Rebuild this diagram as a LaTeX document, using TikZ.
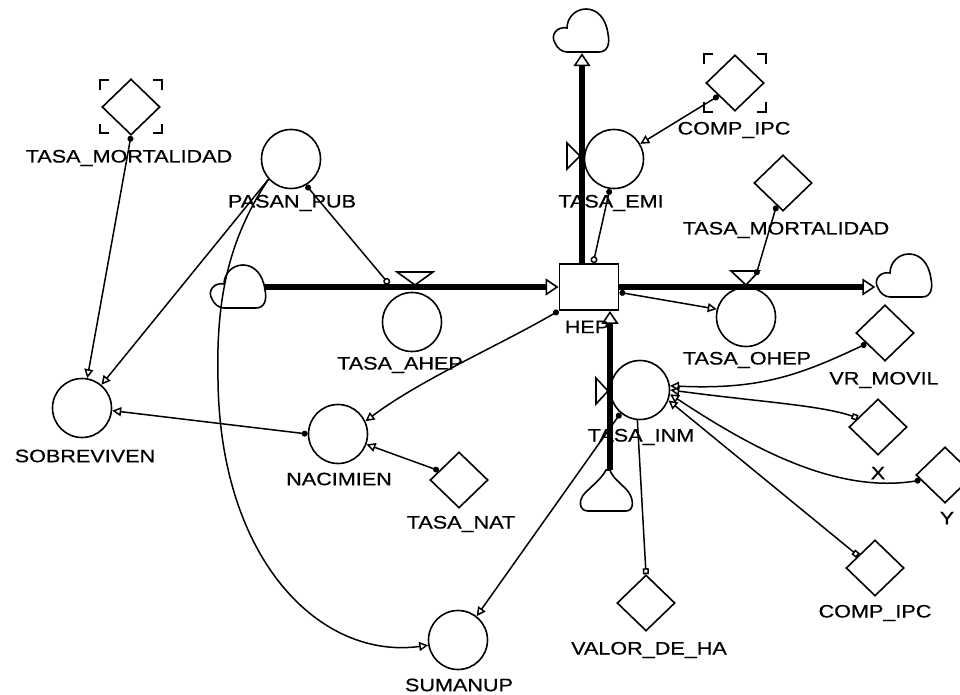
\documentclass[tikz,border=0pt]{standalone}
\usepackage{fontspec}
\setmainfont{Liberation Sans}[FakeStretch=1.2,FakeBold=0.6]
\usetikzlibrary{arrows.meta,shapes.geometric}
\tikzset{
 cloudA/.pic={
   \draw[line width=1.6pt,fill=white] (-13,21) -- (19,21) .. controls (28,21) and (30,12) .. (28,3) .. controls (26,-13) and (17,-22) .. (6,-22) .. controls (-5,-22) and (-13,-13) .. (-13,-3) .. controls (-23,-5) and (-30,4) .. (-25,12) .. controls (-23,17) and (-18,21) .. (-13,21) -- cycle;
   \node[minimum width=55pt,minimum height=44pt] (-n) {};
 },
 cloudB/.pic={
   \draw[line width=1.6pt,fill=white] (-19,20) -- (19,20) .. controls (28,20) and (27,6) .. (19,-2) .. controls (13,-8) and (5,-14) .. (3,-21) -- (-1,-21) .. controls (-5,-13) and (-14,-6) .. (-22,2) .. controls (-29,9) and (-28,20) .. (-19,20) -- cycle;
   \node[minimum width=52pt,minimum height=42pt] (-n) {};
 },
}
\begin{document}
\begin{tikzpicture}[x=1pt,y=-1pt,
  every node/.style={inner sep=0pt},
  aux/.style={circle,draw,line width=1.6pt,minimum size=59pt,fill=white},
  conv/.style={diamond,draw,line width=1.6pt,minimum width=58pt,minimum height=56pt,fill=white},
  stockbox/.style={rectangle,draw,line width=1.8pt,minimum width=59pt,minimum height=46pt,fill=white},
  lbl/.style={font=\fontsize{18}{20}\selectfont},
  pipe/.style={line width=5.5pt,-{Triangle[open,line width=1.6pt,length=13pt,width=17pt]}},
  lk/.style={line width=1.5pt},
  dotopen/.style={lk,arrows={Circle[length=6pt]-Triangle[open,length=9pt,width=9pt]}},
  plainopen/.style={lk,arrows={-Triangle[open,length=9pt,width=9pt]}},
  dotocirc/.style={lk,arrows={Circle[length=6pt]-Circle[open,length=7pt]}},
  ocircdot/.style={lk,arrows={Circle[open,length=7pt]-Circle[length=6pt]}},
  dotdot/.style={lk,arrows={Circle[length=6pt]-Circle[length=6pt]}},
  sqopen/.style={lk,arrows={Square[open,length=6pt,width=6pt]-Triangle[open,length=9pt,width=9pt]}},
  plainsq/.style={lk,arrows={-Square[open,length=6pt,width=6pt]}},
  valve/.style={line width=1.6pt,fill=white},
  ghost/.style={line width=1.6pt},
]
\useasboundingbox (0,0) rectangle (960,695);
\fill[white] (0,0) rectangle (960,695);

% stock
\node[stockbox] (hep) at (589,287) {};

% auxiliaries / rates
\node[aux] (pasan) at (291,159) {};
\node[aux] (ahep) at (412,322) {};
\node[aux] (emi) at (614,159) {};
\node[aux] (ohep) at (746,317) {};
\node[aux] (inm) at (640,390) {};
\node[aux] (sobre) at (82,408) {};
\node[aux] (nac) at (338,434) {};
\node[aux] (suma) at (458,640) {};

% converters
\node[conv] (mortL) at (131,107) {};
\node[conv] (ipcT) at (735,83) {};
\node[conv] (mortR) at (783,183) {};
\node[conv] (vr) at (885,333) {};
\node[conv] (xd) at (878,427) {};
\node[conv] (yd) at (945,475) {};
\node[conv] (ipcB) at (875,568) {};
\node[conv] (valor) at (646,603) {};
\node[conv] (nat) at (459,480) {};

% ghost brackets
\begin{scope}[shift={(mortL.center)}]
 \draw[ghost] (-31,-17) -- (-31,-27) -- (-22,-27);
 \draw[ghost] (22,-27) -- (31,-27) -- (31,-17);
 \draw[ghost] (-31,17) -- (-31,26) -- (-22,26);
 \draw[ghost] (22,26) -- (31,26) -- (31,17);
\end{scope}
\begin{scope}[shift={(ipcT.center)}]
 \draw[ghost] (-31,-19) -- (-31,-29) -- (-22,-29);
 \draw[ghost] (22,-29) -- (31,-29) -- (31,-19);
 \draw[ghost] (-31,19) -- (-31,29) -- (-22,29);
 \draw[ghost] (22,29) -- (31,29) -- (31,19);
\end{scope}

% clouds
\pic (cL) at (237,287) {cloudA};
\pic (tc) at (580,31) {cloudA};
\pic (rc) at (903,276) {cloudA};
\pic (bc) at (607,491) {cloudB};

% valve coordinates
\coordinate (vA) at (415,287);
\coordinate (vAl) at (389,284);
\coordinate (vO) at (746,287);
\coordinate (vOr) at (756,275);
\coordinate (vE) at (582,156);
\coordinate (vI) at (610,391);

% pipes (flows)
\draw[pipe] (cL-n.east |- hep.west) -- (hep.west);
\draw[pipe] (hep.east) -- (hep.east -| rc-n.west);
\draw[pipe] (hep.north -| vE) -- (vE |- tc-n.south);
\draw[pipe] (vI |- bc-n.north) -- (hep.south -| vI);

% valves
\draw[valve] (vA) +(-18,-15) -- +(18,-15) -- +(0,-2) -- cycle;
\draw[valve] (vO) +(-15,-16) -- +(13,-16) -- +(0,-2) -- cycle;
\draw[valve] (vE) +(-15,-13) -- +(-15,13) -- +(-2,0) -- cycle;
\draw[valve] (vI) +(-14,-13) -- +(-14,13) -- +(-2,0) -- cycle;

% connectors
\draw[dotopen] (mortL.south) -- (sobre.80);
\draw[plainopen] (pasan.222) -- (sobre.50);
\draw[plainopen] (pasan.222) .. controls (228,240) and (216,300) .. (218,380) .. controls (220,560) and (320,660) .. (suma.190);
\draw[dotocirc] (pasan.300) -- (vAl);
\draw[dotopen] (hep.south west) .. controls (500,345) and (420,380) .. (nac.25);
\draw[dotopen] (nac.west) -- (sobre.-5);
\draw[dotopen] (nat.155) -- (nac.-20);
\draw[dotopen] (inm.230) -- (suma.52);
\draw[ocircdot] (hep.80) -- (emi.262);
\draw[dotopen] (ipcT.218) -- (emi.30);
\draw[dotdot] (mortR.254) -- (vOr);
\draw[dotopen] (hep.-10) -- (ohep.165);
\draw[dotopen] (vr.210) .. controls (800,375) and (760,390) .. (inm.8);
\draw[sqopen] (xd.156) .. controls (820,405) and (760,402) .. (inm.0);
\draw[dotopen] (yd.192) .. controls (830,495) and (740,440) .. (inm.-8);
\draw[sqopen] (ipcB.144) -- (inm.-20);
\draw[plainsq] (inm.-95) -- (valor.north);

% labels
\node[lbl] (lmortL) at (129,158) {TASA\_MORTALIDAD};
\node[lbl] (lpasan) at (292,203) {PASAN\_PUB};
\node[lbl] (lahep) at (400,365) {TASA\_AHEP};
\node[lbl] (lemi) at (611,203) {TASA\_EMI};
\node[lbl] (lipcT) at (734,130) {COMP\_IPC};
\node[lbl] (lmortR) at (786,230) {TASA\_MORTALIDAD};
\node[lbl] (lhep) at (587,327) {HEP};
\node[lbl] (lohep) at (747,360) {TASA\_OHEP};
\node[lbl] (lvr) at (884,380) {VR\_MOVIL};
\node[lbl] (linm) at (641,437) {TASA\_INM};
\node[lbl] (lx) at (878,473) {X};
\node[lbl] (ly) at (947,518) {Y};
\node[lbl] (lipcB) at (875,613) {COMP\_IPC};
\node[lbl] (lvalor) at (649,650) {VALOR\_DE\_HA};
\node[lbl] (lsuma) at (459,685) {SUMANUP};
\node[lbl] (lsobre) at (85,456) {SOBREVIVEN};
\node[lbl] (lnac) at (339,479) {NACIMIEN};
\node[lbl] (lnat) at (461,524) {TASA\_NAT};
\end{tikzpicture}
\end{document}
